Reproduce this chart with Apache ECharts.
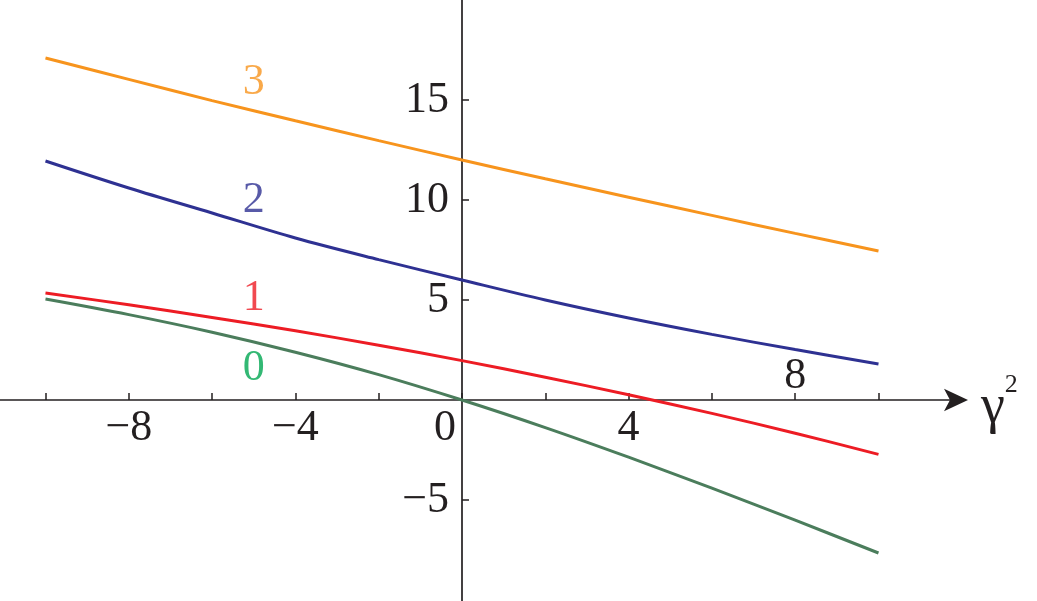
<!DOCTYPE html>
<html><head><meta charset="utf-8">
<script src="https://cdn.jsdelivr.net/npm/echarts@6/dist/echarts.min.js"></script>
<style>html,body{margin:0;padding:0;background:#fff}#c{width:1037px;height:601px}</style>
</head><body><div id="c"></div>
<script>
// ---- data ----
const gamma2 = [-10, -8, -6, -4, -2, 0, 2, 4, 6, 8, 10];
const curve0 = [5.05, 4.27, 3.39, 2.39, 1.27, 0, -1.38, -2.86, -4.41, -6.01, -7.65];
const curve1 = [5.35, 4.76, 4.13, 3.46, 2.74, 1.97, 1.14, 0.26, -0.67, -1.66, -2.72];
const curve2 = [11.95, 10.6, 9.35, 8.1, 7.02, 6.0, 5.0, 4.1, 3.28, 2.52, 1.8];
const curve3 = [17.1, 16.03, 14.97, 13.96, 12.97, 12.0, 11.06, 10.14, 9.23, 8.33, 7.45];
const curveNames = ['0', '1', '2', '3'];
const curveLabelAt = [[-5, 1.6], [-5, 5.1], [-5, 10], [-5, 15.9]];
const xTicks = [-10, -8, -6, -4, -2, 0, 2, 4, 6, 8, 10];
const xLabelsBelow = [-8, -4, 0, 4];
const xLabelsAbove = [8];
const yTicks = [-5, 5, 10, 15];
const yLabels = [-5, 5, 10, 15];

// ---- layout / styles ----
const W = 956, H = 601;
const XMIN = -11.092, XMAX = 11.861, YMIN = -10.05, YMAX = 20;
const FONT = '"Liberation Serif", "DejaVu Serif", serif';
const INK = '#231F20';
const lineColors = ['#4B7D5C', '#ED1C24', '#2E3192', '#F7941D'];
const labelColors = ['#00A651', '#ED1C24', '#2E3192', '#F7941D'];
const curves = [curve0, curve1, curve2, curve3];
const fmt = v => (v < 0 ? '\u2212' + Math.abs(v) : String(v));
// pixel positions of the zero lines (axes cross at the origin)
const zeroY = H * YMAX / (YMAX - YMIN);
const zeroX = W * (-XMIN) / (XMAX - XMIN);

const chart = echarts.init(document.getElementById('c'), null, {renderer: 'canvas'});
const series = [];
curves.forEach((c, k) => {
  series.push({
    type: 'line', xAxisIndex: 0, yAxisIndex: 0,
    data: gamma2.map((x, i) => [x, c[i]]),
    showSymbol: false, smooth: 0.35,
    lineStyle: {color: lineColors[k], width: 3},
    silent: true, z: 3
  });
  series.push({
    type: 'scatter', xAxisIndex: 0, yAxisIndex: 0,
    data: [curveLabelAt[k]], symbolSize: 0,
    itemStyle: {color: 'transparent'},
    label: {show: true, position: 'inside', formatter: curveNames[k],
            color: labelColors[k], fontSize: 44, fontFamily: FONT},
    silent: true, z: 4
  });
});

chart.setOption({
  animation: false,
  backgroundColor: '#fff',
  grid: {left: 0, top: 0, width: W, height: H, containLabel: false, outerBoundsMode: 'none'},
  xAxis: [{
    type: 'value', min: XMIN, max: XMAX, position: 'bottom', offset: -(H - zeroY),
    axisLine: {onZero: false, lineStyle: {color: INK, width: 1.7},
               symbol: ['none', 'arrow'], symbolSize: [17, 24], symbolOffset: [0, 12]},
    axisTick: {show: true, inside: true, length: 7, customValues: xTicks,
               lineStyle: {color: INK, width: 1.5}},
    axisLabel: {customValues: xLabelsBelow, color: INK, fontSize: 44, fontFamily: FONT, margin: 6,
                formatter: v => (v === 0 ? '{z|0}' : fmt(v)),
                rich: {z: {fontSize: 44, fontFamily: FONT, color: INK, padding: [0, 34, 0, 0]}}},
    splitLine: {show: false},
    name: '{g|\u03B3}{s|2}', nameLocation: 'end', nameGap: 25,
    nameTextStyle: {padding: [16, 0, 0, 0], rich: {
      g: {fontSize: 54, fontFamily: FONT, color: INK},
      s: {fontSize: 26, fontFamily: FONT, color: INK, verticalAlign: 'top', padding: [0, 0, 46, 0]}
    }}
  }, {
    type: 'value', min: XMIN, max: XMAX, position: 'top', offset: -zeroY,
    axisLine: {show: false, onZero: false},
    axisTick: {show: false},
    axisLabel: {customValues: xLabelsAbove, color: INK, fontSize: 44, fontFamily: FONT, margin: 2,
                formatter: fmt},
    splitLine: {show: false}
  }],
  yAxis: [{
    type: 'value', min: YMIN, max: YMAX, position: 'left', offset: -zeroX,
    axisLine: {onZero: false, lineStyle: {color: INK, width: 1.7}},
    axisTick: {show: true, inside: true, length: 7, customValues: yTicks,
               lineStyle: {color: INK, width: 1.5}},
    axisLabel: {customValues: yLabels, color: INK, fontSize: 44, fontFamily: FONT, margin: 13,
                formatter: fmt},
    splitLine: {show: false}
  }],
  series: series
});
</script>
</body></html>
